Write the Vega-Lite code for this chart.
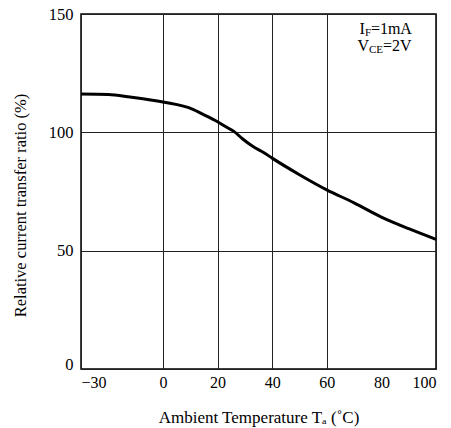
{
  "$schema": "https://vega.github.io/schema/vega-lite/v6.json",
  "width": 355,
  "height": 355,
  "autosize": {"type": "none"},
  "padding": {"left": 81, "top": 14, "right": 15, "bottom": 59},
  "background": "white",
  "config": {
    "view": {"stroke": "#000", "strokeWidth": 1.5},
    "font": "Liberation Serif",
    "axis": {"labelFont": "Liberation Serif", "titleFont": "Liberation Serif", "labelColor": "#000", "titleColor": "#000", "titleFontWeight": "normal", "domain": false, "ticks": false, "gridColor": "#222", "gridWidth": 1, "gridOpacity": 1}
  },
  "datasets": {
    "curve": [
      {"t": -30, "r": 116.2},
      {"t": -20, "r": 116.0},
      {"t": -12, "r": 114.9},
      {"t": 0, "r": 112.8},
      {"t": 11, "r": 109.7},
      {"t": 14, "r": 108.0},
      {"t": 20, "r": 104.5},
      {"t": 24, "r": 101.7},
      {"t": 26, "r": 100.4},
      {"t": 29, "r": 97.4},
      {"t": 33, "r": 94.0},
      {"t": 37, "r": 91.4},
      {"t": 40, "r": 89.1},
      {"t": 50, "r": 82.1},
      {"t": 60, "r": 75.7},
      {"t": 70, "r": 70.2},
      {"t": 80, "r": 64.2},
      {"t": 90, "r": 59.3},
      {"t": 100, "r": 54.8}
    ],
    "legend": [{"l1a": "I", "l1b": "F", "l1c": "=1mA", "l2a": "V", "l2b": "CE", "l2c": "=2V"}]
  },
  "layer": [
    {
      "data": {"name": "curve"},
      "mark": {"type": "line", "color": "#000", "strokeWidth": 3, "interpolate": "monotone"},
      "encoding": {
        "x": {"field": "t", "type": "quantitative", "scale": {"domain": [-30, 100], "nice": false, "zero": false},
          "axis": {"values": [-30, 0, 20, 40, 60, 80, 100], "labelFont": "Liberation Serif", "labelFontSize": 16, "labelPadding": 5, "labelBaseline": "top",
            "gridOpacity": {"condition": {"test": "datum.value == 80", "value": 0}, "value": 1},
            "title": "Ambient Temperature Tₐ (˚C)", "titleFont": "Liberation Serif", "titleFontSize": 17, "titleX": 177.5, "titleY": 53, "titleBaseline": "alphabetic", "titleAnchor": "middle"}},
        "y": {"field": "r", "type": "quantitative", "scale": {"domain": [0, 150], "nice": false},
          "axis": {"values": [0, 50, 100, 150], "labelFont": "Liberation Serif", "labelFontSize": 16.5, "labelPadding": 8,
            "labelBaseline": {"condition": {"test": "datum.value == 0", "value": "alphabetic"}, "value": "middle"},
            "title": "Relative current transfer ratio (%)", "titleFont": "Liberation Serif", "titleFontSize": 16.5, "titleAngle": -90, "titleX": -56, "titleY": 191, "titleBaseline": "alphabetic", "titleAlign": "center"}}
      }
    },
    {
      "mark": {"type": "rule", "color": "#222", "strokeWidth": 1},
      "encoding": {"x": {"datum": 80}, "y": {"datum": 0}, "y2": {"datum": 130}}
    },
    {
      "mark": {"type": "rule", "color": "#222", "strokeWidth": 1},
      "encoding": {"x": {"datum": 60}, "x2": {"datum": 100}, "y": {"datum": 130}}
    },
    {
      "data": {"name": "legend"},
      "layer": [
        {"mark": {"type": "text", "font": "Liberation Serif", "fontSize": 16, "align": "left", "baseline": "alphabetic", "dx": -22, "color": "#000"},
          "encoding": {"x": {"datum": 80}, "y": {"datum": 141.5}, "text": {"field": "l1a"}}},
        {"mark": {"type": "text", "font": "Liberation Serif", "fontSize": 11, "align": "left", "baseline": "alphabetic", "dx": -16.5, "dy": 2, "color": "#000"},
          "encoding": {"x": {"datum": 80}, "y": {"datum": 141.5}, "text": {"field": "l1b"}}},
        {"mark": {"type": "text", "font": "Liberation Serif", "fontSize": 16, "align": "left", "baseline": "alphabetic", "dx": -10.5, "color": "#000"},
          "encoding": {"x": {"datum": 80}, "y": {"datum": 141.5}, "text": {"field": "l1c"}}},
        {"mark": {"type": "text", "font": "Liberation Serif", "fontSize": 16, "align": "left", "baseline": "alphabetic", "dx": -24, "color": "#000"},
          "encoding": {"x": {"datum": 80}, "y": {"datum": 134.5}, "text": {"field": "l2a"}}},
        {"mark": {"type": "text", "font": "Liberation Serif", "fontSize": 11, "align": "left", "baseline": "alphabetic", "dx": -12.5, "dy": 2, "color": "#000"},
          "encoding": {"x": {"datum": 80}, "y": {"datum": 134.5}, "text": {"field": "l2b"}}},
        {"mark": {"type": "text", "font": "Liberation Serif", "fontSize": 16, "align": "left", "baseline": "alphabetic", "dx": 1.5, "color": "#000"},
          "encoding": {"x": {"datum": 80}, "y": {"datum": 134.5}, "text": {"field": "l2c"}}}
      ]
    }
  ]
}
